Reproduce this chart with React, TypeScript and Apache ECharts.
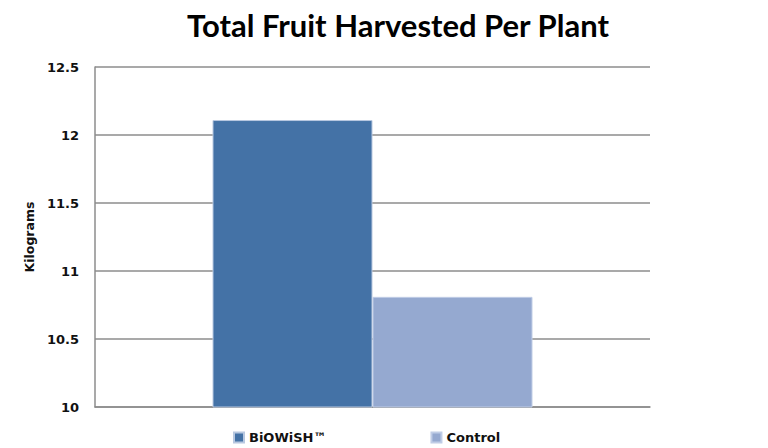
import React, { useEffect, useRef } from "react";
import * as echarts from "echarts";

const categories = ["Total"];
const seriesNames = ["BiOWiSH™", "Control"];
const biowishValues = [12.11];
const controlValues = [10.81];
const yMin = 10;
const yMax = 12.5;
const yInterval = 0.5;

export default function App() {
  const ref = useRef<HTMLDivElement>(null);
  useEffect(() => {
    if (!ref.current) return;
    const chart = echarts.init(ref.current, undefined, { renderer: "svg" });
    const titleFont = "Lato, 'Open Sans', sans-serif";
    const font = "'DejaVu Sans', sans-serif";
    chart.setOption({
      animation: false,
      backgroundColor: "#ffffff",
      title: {
        text: "Total Fruit Harvested Per Plant",
        left: 393,
        top: 4,
        textAlign: "center",
        textStyle: { fontFamily: titleFont, fontWeight: "bold", fontSize: 31, color: "#000" },
      },
      legend: {
        data: seriesNames,
        left: 228,
        top: 426,
        itemWidth: 10,
        itemHeight: 10,
        itemGap: 104,
        icon: "rect",
        textStyle: { fontFamily: font, fontWeight: "bold", fontSize: 13, color: "#111" },
      },
      grid: { left: 95, right: 118, top: 67, bottom: 41 },
      xAxis: {
        type: "category",
        data: categories,
        axisLine: { lineStyle: { color: "#8c8c8c", width: 1.5 } },
        axisTick: { show: false },
        axisLabel: { show: false },
      },
      yAxis: {
        type: "value",
        min: yMin,
        max: yMax,
        interval: yInterval,
        name: "Kilograms",
        nameLocation: "middle",
        nameGap: 52,
        nameRotate: 90,
        nameTextStyle: { fontFamily: font, fontWeight: "bold", fontSize: 12.5, color: "#111" },
        axisLine: { show: true, lineStyle: { color: "#8c8c8c", width: 1.5 } },
        axisTick: { show: false },
        splitLine: { lineStyle: { color: "#8c8c8c", width: 1.5 } },
        axisLabel: {
          fontFamily: font,
          fontWeight: "bold",
          fontSize: 13,
          color: "#111",
          margin: 16,
        },
      },
      series: [
        {
          name: seriesNames[0],
          type: "bar",
          data: biowishValues,
          barWidth: 160,
          barGap: "0%",
          itemStyle: { color: "#4472A6", borderColor: "#b8c8e0", borderWidth: 1 },
        },
        {
          name: seriesNames[1],
          type: "bar",
          data: controlValues,
          barWidth: 160,
          itemStyle: { color: "#95A9D0", borderColor: "#c0cde6", borderWidth: 1 },
        },
      ],
    });
    return () => chart.dispose();
  }, []);
  return (
    <div
      ref={ref}
      style={{ position: "fixed", left: 0, top: 0, width: 768, height: 448 }}
    />
  );
}
